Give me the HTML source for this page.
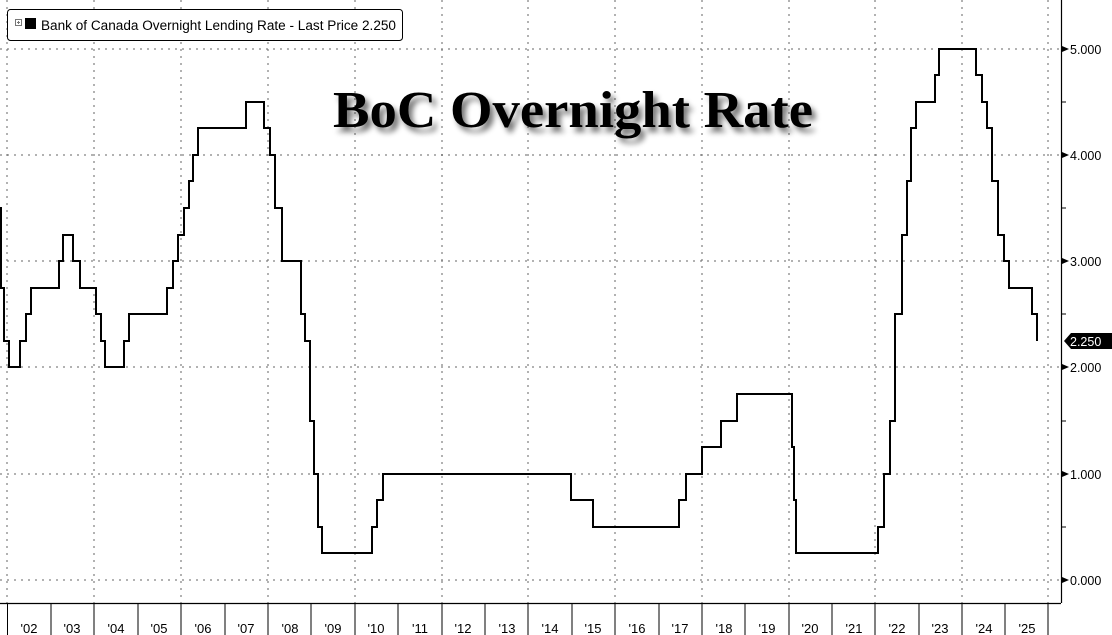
<!DOCTYPE html>
<html><head><meta charset="utf-8"><style>
html,body{margin:0;padding:0;background:#fff;}
svg{display:block;font-family:"Liberation Sans",sans-serif;}
</style></head><body>
<svg width="1112" height="635" viewBox="0 0 1112 635" xmlns="http://www.w3.org/2000/svg">
<defs><filter id="sh" x="-10%" y="-30%" width="120%" height="160%"><feGaussianBlur in="SourceAlpha" stdDeviation="3"/><feOffset dx="4" dy="5"/><feComponentTransfer><feFuncA type="linear" slope="0.55"/></feComponentTransfer><feMerge><feMergeNode/><feMergeNode in="SourceGraphic"/></feMerge></filter></defs>
<rect width="1112" height="635" fill="#fff"/>
<g stroke="#666" stroke-width="1" stroke-dasharray="2,5">
<line x1="0" y1="49" x2="1061" y2="49"/><line x1="0" y1="155" x2="1061" y2="155"/><line x1="0" y1="261" x2="1061" y2="261"/><line x1="0" y1="367" x2="1061" y2="367"/><line x1="0" y1="474" x2="1061" y2="474"/><line x1="0" y1="580" x2="1061" y2="580"/>
<line x1="7" y1="0" x2="7" y2="603"/><line x1="94" y1="0" x2="94" y2="603"/><line x1="181" y1="0" x2="181" y2="603"/><line x1="268" y1="0" x2="268" y2="603"/><line x1="355" y1="0" x2="355" y2="603"/><line x1="442" y1="0" x2="442" y2="603"/><line x1="528" y1="0" x2="528" y2="603"/><line x1="615" y1="0" x2="615" y2="603"/><line x1="702" y1="0" x2="702" y2="603"/><line x1="789" y1="0" x2="789" y2="603"/><line x1="875" y1="0" x2="875" y2="603"/><line x1="962" y1="0" x2="962" y2="603"/><line x1="1048" y1="0" x2="1048" y2="603"/>
</g>
<line x1="1061.5" y1="0" x2="1061.5" y2="603" stroke="#000" stroke-width="1.2"/>
<line x1="0" y1="603.5" x2="1061" y2="603.5" stroke="#000" stroke-width="1.2"/>
<g stroke="#000" stroke-width="1">
<line x1="7.5" y1="603" x2="7.5" y2="635"/><line x1="51" y1="603" x2="51" y2="635"/><line x1="94" y1="603" x2="94" y2="635"/><line x1="138" y1="603" x2="138" y2="635"/><line x1="181" y1="603" x2="181" y2="635"/><line x1="225" y1="603" x2="225" y2="635"/><line x1="268" y1="603" x2="268" y2="635"/><line x1="311" y1="603" x2="311" y2="635"/><line x1="355" y1="603" x2="355" y2="635"/><line x1="398" y1="603" x2="398" y2="635"/><line x1="442" y1="603" x2="442" y2="635"/><line x1="485" y1="603" x2="485" y2="635"/><line x1="528" y1="603" x2="528" y2="635"/><line x1="572" y1="603" x2="572" y2="635"/><line x1="615" y1="603" x2="615" y2="635"/><line x1="659" y1="603" x2="659" y2="635"/><line x1="702" y1="603" x2="702" y2="635"/><line x1="745" y1="603" x2="745" y2="635"/><line x1="789" y1="603" x2="789" y2="635"/><line x1="832" y1="603" x2="832" y2="635"/><line x1="875" y1="603" x2="875" y2="635"/><line x1="919" y1="603" x2="919" y2="635"/><line x1="962" y1="603" x2="962" y2="635"/><line x1="1005" y1="603" x2="1005" y2="635"/><line x1="1048" y1="603" x2="1048" y2="635"/>
<line x1="1061" y1="102" x2="1066" y2="102"/><line x1="1061" y1="208" x2="1066" y2="208"/><line x1="1061" y1="314" x2="1066" y2="314"/><line x1="1061" y1="421" x2="1066" y2="421"/><line x1="1061" y1="527" x2="1066" y2="527"/>
</g>
<g font-size="13" fill="#000" text-anchor="middle">
<text x="29" y="633">'02</text><text x="72" y="633">'03</text><text x="116" y="633">'04</text><text x="159" y="633">'05</text><text x="203" y="633">'06</text><text x="246" y="633">'07</text><text x="290" y="633">'08</text><text x="333" y="633">'09</text><text x="376" y="633">'10</text><text x="420" y="633">'11</text><text x="463" y="633">'12</text><text x="507" y="633">'13</text><text x="550" y="633">'14</text><text x="593" y="633">'15</text><text x="637" y="633">'16</text><text x="680" y="633">'17</text><text x="724" y="633">'18</text><text x="767" y="633">'19</text><text x="810" y="633">'20</text><text x="854" y="633">'21</text><text x="897" y="633">'22</text><text x="940" y="633">'23</text><text x="984" y="633">'24</text><text x="1027" y="633">'25</text>
</g>
<g font-size="12.5" fill="#000">
<path d="M1062 46 L1069 49 L1062 52Z"/><text x="1070" y="54">5.000</text>
<path d="M1062 152 L1069 155 L1062 158Z"/><text x="1070" y="160">4.000</text>
<path d="M1062 258 L1069 261 L1062 264Z"/><text x="1070" y="266">3.000</text>
<path d="M1062 364 L1069 367 L1062 370Z"/><text x="1070" y="372">2.000</text>
<path d="M1062 471 L1069 474 L1062 477Z"/><text x="1070" y="479">1.000</text>
<path d="M1062 577 L1069 580 L1062 583Z"/><text x="1070" y="585">0.000</text>
</g>
<path d="M1064 341 L1071 333 L1112 333 L1112 349 L1071 349Z" fill="#000"/>
<text x="1070" y="346" font-size="12.5" fill="#fff">2.250</text>
<path fill="none" stroke="#000" stroke-width="2" stroke-linejoin="miter" d="
M0 208 H1 V288 H4 V341 H9 V367 H20 V341 H26 V314 H31 V288 H59 V261 H63 V235 H73 V261 H80 V288 H96 V314 H101 V341 H105 V367 H124 V341 H129 V314 H167 V288 H173 V261 H178 V235 H184 V208 H189 V181 H193 V155 H198 V128 H246 V102 H264 V128 H270 V155 H275 V208 H282 V261 H301 V314 H305 V341 H310 V421 H314 V474 H318 V527 H322 V553 H372 V527 H377 V500 H383 V474 H571 V500 H593 V527 H679 V500 H686 V474 H702 V447 H721 V421 H737 V394 H792 V447 H794 V500 H796 V553 H878 V527 H884 V474 H890 V421 H895 V314 H902 V235 H907 V181 H911 V128 H916 V102 H935 V75 H939 V49 H976 V75 H982 V102 H987 V128 H992 V181 H998 V235 H1004 V261 H1009 V288 H1032 V314 H1037 V341"/>
<rect x="7.5" y="9.5" width="395" height="31" rx="3" fill="#fff" stroke="#000" stroke-width="1"/>
<rect x="15.5" y="19.5" width="6" height="6" fill="#fff" stroke="#777" stroke-width="1"/>
<line x1="17" y1="22.5" x2="20" y2="22.5" stroke="#777"/><line x1="18.5" y1="21" x2="18.5" y2="24" stroke="#777"/>
<rect x="25" y="18" width="11" height="11" fill="#000"/>
<text x="41" y="30" font-size="13.5" fill="#000" textLength="355" lengthAdjust="spacingAndGlyphs">Bank of Canada Overnight Lending Rate - Last Price 2.250</text>
<text x="333" y="127" font-family="'Liberation Serif',serif" font-weight="bold" font-size="52" fill="#000" textLength="480" lengthAdjust="spacingAndGlyphs" filter="url(#sh)">BoC Overnight Rate</text>
</svg>
</body></html>
